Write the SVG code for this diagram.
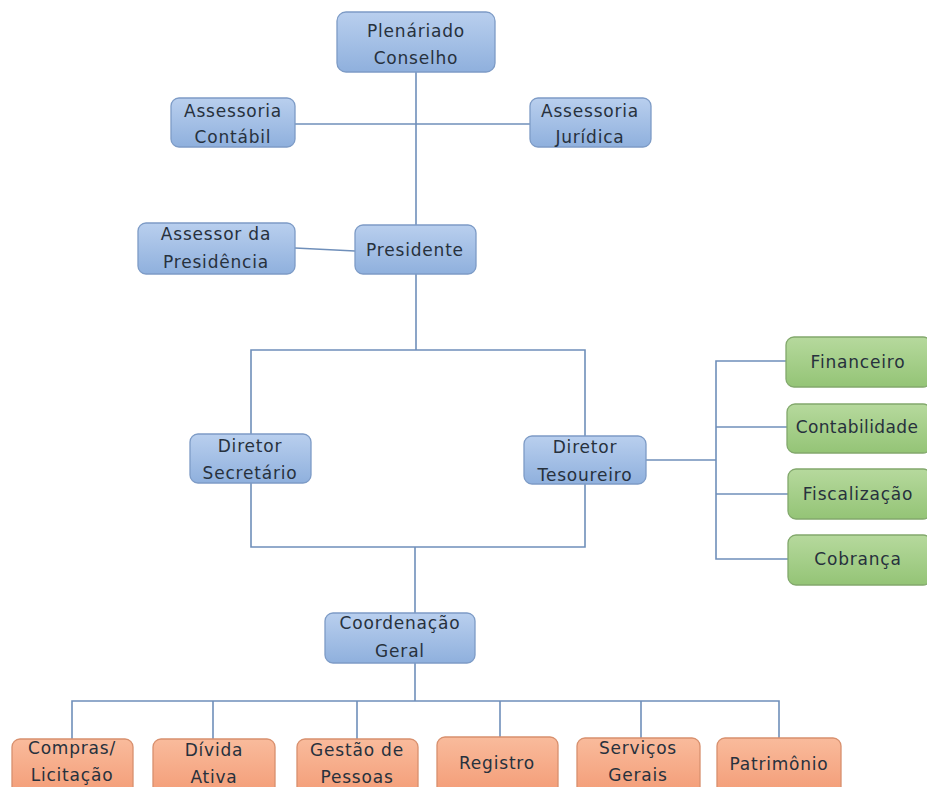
<svg xmlns="http://www.w3.org/2000/svg" width="927" height="787" viewBox="0 0 927 787">
<defs>
<linearGradient id="gb" x1="0" y1="0" x2="0" y2="1"><stop offset="0" stop-color="#b9cfee"/><stop offset="1" stop-color="#8fb0dd"/></linearGradient>
<linearGradient id="gg" x1="0" y1="0" x2="0" y2="1"><stop offset="0" stop-color="#b6d99d"/><stop offset="1" stop-color="#94c476"/></linearGradient>
<linearGradient id="go" x1="0" y1="0" x2="0" y2="1"><stop offset="0" stop-color="#f9bb9c"/><stop offset="1" stop-color="#f39a74"/></linearGradient>
</defs>
<style>
.b{fill:url(#gb);stroke:#7d9bc6;stroke-width:1.3}
.g{fill:url(#gg);stroke:#82a86c;stroke-width:1.3}
.o{fill:url(#go);stroke:#d8906e;stroke-width:1.3}
text{font-family:"DejaVu Sans",sans-serif;font-size:17px;letter-spacing:0.8px;fill:#27313d;text-anchor:middle}
.c line,.c polyline{stroke:#6f8fba;stroke-width:1.6;fill:none}
</style>
<rect width="927" height="787" fill="#ffffff"/>
<g class="c" id="connectors">
<line x1="416" y1="72" x2="416" y2="225"/>
<line x1="295" y1="124" x2="530" y2="124"/>
<line x1="295" y1="248" x2="355" y2="251"/>
<line x1="416" y1="274" x2="416" y2="350"/>
<polyline points="251,434 251,350 585,350 585,436"/>
<polyline points="251,483 251,547 585,547 585,484"/>
<line x1="415" y1="547" x2="415" y2="613"/>
<line x1="415" y1="663" x2="415" y2="701"/>
<polyline points="72,739 72,701 779,701 779,738"/>
<line x1="213" y1="701" x2="213" y2="739"/>
<line x1="357" y1="701" x2="357" y2="739"/>
<line x1="500" y1="701" x2="500" y2="737"/>
<line x1="641" y1="701" x2="641" y2="738"/>
<line x1="646" y1="460" x2="716" y2="460"/>
<polyline points="786,361 716,361 716,559 788,559"/>
<line x1="716" y1="427" x2="787" y2="427"/>
<line x1="716" y1="494" x2="788" y2="494"/>
</g>
<g id="plenario"><rect class="b" x="337" y="12" width="158" height="60" rx="9"/><text x="416" y="37">Plenáriado</text><text x="416" y="64">Conselho</text></g>
<g id="ass-contabil"><rect class="b" x="171" y="98" width="124" height="49" rx="8"/><text x="233" y="117">Assessoria</text><text x="233" y="143">Contábil</text></g>
<g id="ass-juridica"><rect class="b" x="530" y="98" width="121" height="49" rx="8"/><text x="590" y="117">Assessoria</text><text x="590" y="143">Jurídica</text></g>
<g id="ass-presidencia"><rect class="b" x="138" y="223" width="157" height="51" rx="8"/><text x="216" y="240">Assessor da</text><text x="216" y="268">Presidência</text></g>
<g id="presidente"><rect class="b" x="355" y="225" width="121" height="49" rx="8"/><text x="415" y="256">Presidente</text></g>
<g id="dir-secretario"><rect class="b" x="190" y="434" width="121" height="49" rx="8"/><text x="250" y="452">Diretor</text><text x="250" y="479">Secretário</text></g>
<g id="dir-tesoureiro"><rect class="b" x="524" y="436" width="122" height="48" rx="8"/><text x="585" y="453">Diretor</text><text x="585" y="481">Tesoureiro</text></g>
<g id="financeiro"><rect class="g" x="786" y="337" width="145" height="50" rx="8"/><text x="858" y="368">Financeiro</text></g>
<g id="contabilidade"><rect class="g" x="787" y="404" width="144" height="49" rx="8"/><text x="857" y="433" style="letter-spacing:0.4px">Contabilidade</text></g>
<g id="fiscalizacao"><rect class="g" x="788" y="469" width="143" height="50" rx="8"/><text x="858" y="500">Fiscalização</text></g>
<g id="cobranca"><rect class="g" x="788" y="535" width="143" height="50" rx="8"/><text x="858" y="565">Cobrança</text></g>
<g id="coordenacao"><rect class="b" x="325" y="613" width="150" height="50" rx="8"/><text x="400" y="629">Coordenação</text><text x="400" y="657">Geral</text></g>
<g id="compras"><rect class="o" x="12" y="739" width="121" height="60" rx="8"/><text x="72" y="754">Compras/</text><text x="72" y="781">Licitação</text></g>
<g id="divida"><rect class="o" x="153" y="739" width="122" height="60" rx="8"/><text x="214" y="756">Dívida</text><text x="214" y="783">Ativa</text></g>
<g id="gestao"><rect class="o" x="297" y="739" width="121" height="60" rx="8"/><text x="357" y="756">Gestão de</text><text x="357" y="783">Pessoas</text></g>
<g id="registro"><rect class="o" x="437" y="737" width="121" height="60" rx="8"/><text x="497" y="769">Registro</text></g>
<g id="servicos"><rect class="o" x="577" y="738" width="123" height="60" rx="8"/><text x="638" y="754">Serviços</text><text x="638" y="781">Gerais</text></g>
<g id="patrimonio"><rect class="o" x="717" y="738" width="124" height="60" rx="8"/><text x="779" y="770">Patrimônio</text></g>
</svg>
